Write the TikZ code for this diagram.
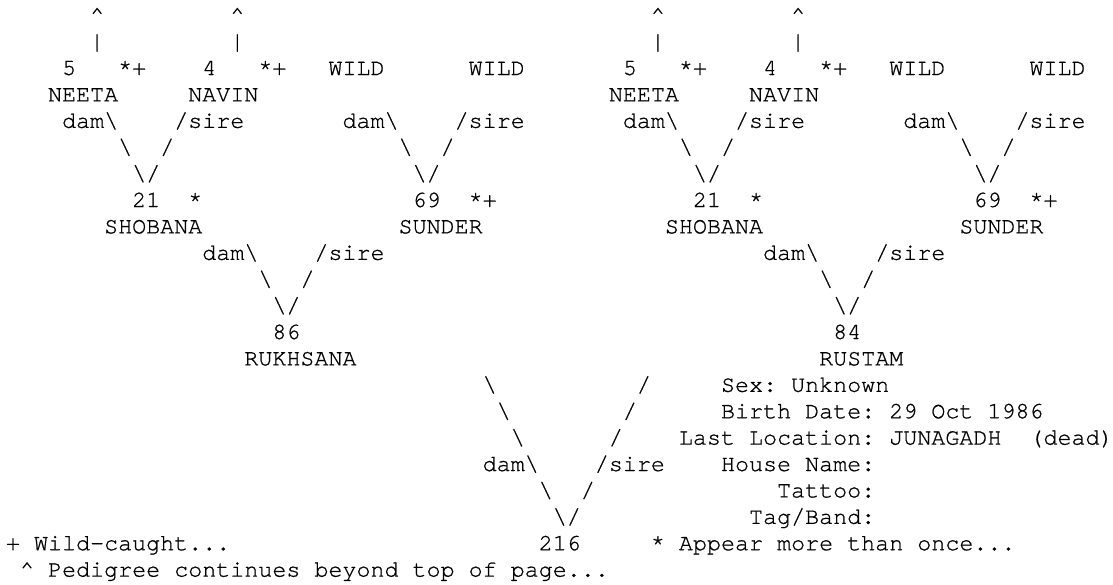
\documentclass[tikz,border=0pt]{standalone}
\usepackage{fontspec}
\newfontfamily\monofam{texgyrecursor-regular}[Extension=.otf,FakeBold=0.8]
\newcommand\csp{\hspace*{10.515pt}}
\newcommand\bs{\textbackslash}
\tikzset{txt/.style={inner sep=0pt, outer sep=0pt, anchor=base west,
  font=\monofam\fontsize{17.525pt}{20pt}\selectfont}}
\newcommand\txtat[4]{\node[txt] (#1) at ({6+#2*14.02},{22.2+(#3-1)*26.4}) {#4};}
\begin{document}
\begin{tikzpicture}[x=0.75pt,y=-0.75pt]
\fill[white] (0,0) rectangle (1113,585);
\useasboundingbox (0,0) rectangle (1113,585);
% row 1-2
\txtat{ca1}{6}{1}{\textasciicircum}
\txtat{ca2}{16}{1}{\textasciicircum}
\txtat{ca3}{46}{1}{\textasciicircum}
\txtat{ca4}{56}{1}{\textasciicircum}
\txtat{vb1}{6}{2}{\textbar}
\txtat{vb2}{16}{2}{\textbar}
\txtat{vb3}{46}{2}{\textbar}
\txtat{vb4}{56}{2}{\textbar}
% row 3
\txtat{n5l}{4}{3}{5}
\txtat{s5l}{8}{3}{*+}
\txtat{n4l}{14}{3}{4}
\txtat{s4l}{18}{3}{*+}
\txtat{w1l}{23}{3}{WILD}
\txtat{w2l}{33}{3}{WILD}
\txtat{n5r}{44}{3}{5}
\txtat{s5r}{48}{3}{*+}
\txtat{n4r}{54}{3}{4}
\txtat{s4r}{58}{3}{*+}
\txtat{w1r}{63}{3}{WILD}
\txtat{w2r}{73}{3}{WILD}
% row 4
\txtat{neetal}{3}{4}{NEETA}
\txtat{navinl}{13}{4}{NAVIN}
\txtat{neetar}{43}{4}{NEETA}
\txtat{navinr}{53}{4}{NAVIN}
% row 5
\txtat{da1l}{4}{5}{dam\bs}
\txtat{si1l}{12}{5}{/sire}
\txtat{da2l}{24}{5}{dam\bs}
\txtat{si2l}{32}{5}{/sire}
\txtat{da1r}{44}{5}{dam\bs}
\txtat{si1r}{52}{5}{/sire}
\txtat{da2r}{64}{5}{dam\bs}
\txtat{si2r}{72}{5}{/sire}
% row 6
\txtat{l6a}{8}{6}{\bs}
\txtat{r6a}{11}{6}{/}
\txtat{l6b}{28}{6}{\bs}
\txtat{r6b}{31}{6}{/}
\txtat{l6c}{48}{6}{\bs}
\txtat{r6c}{51}{6}{/}
\txtat{l6d}{68}{6}{\bs}
\txtat{r6d}{71}{6}{/}
% row 7
\txtat{v7a}{9}{7}{\bs/}
\txtat{v7b}{29}{7}{\bs/}
\txtat{v7c}{49}{7}{\bs/}
\txtat{v7d}{69}{7}{\bs/}
% row 8
\txtat{n21l}{9}{8}{21}
\txtat{s21l}{13}{8}{*}
\txtat{n69l}{29}{8}{69}
\txtat{s69l}{33}{8}{*+}
\txtat{n21r}{49}{8}{21}
\txtat{s21r}{53}{8}{*}
\txtat{n69r}{69}{8}{69}
\txtat{s69r}{73}{8}{*+}
% row 9
\txtat{shobl}{7}{9}{SHOBANA}
\txtat{sundl}{28}{9}{SUNDER}
\txtat{shobr}{47}{9}{SHOBANA}
\txtat{sundr}{68}{9}{SUNDER}
% row 10
\txtat{da3l}{14}{10}{dam\bs}
\txtat{si3l}{22}{10}{/sire}
\txtat{da3r}{54}{10}{dam\bs}
\txtat{si3r}{62}{10}{/sire}
% row 11
\txtat{l11a}{18}{11}{\bs}
\txtat{r11a}{21}{11}{/}
\txtat{l11b}{58}{11}{\bs}
\txtat{r11b}{61}{11}{/}
% row 12
\txtat{v12a}{19}{12}{\bs/}
\txtat{v12b}{59}{12}{\bs/}
% row 13-14
\txtat{n86}{19}{13}{86}
\txtat{n84}{59}{13}{84}
\txtat{rukh}{17}{14}{RUKHSANA}
\txtat{rust}{58}{14}{RUSTAM}
% rows 15-20 (bottom V)
\txtat{l15}{34}{15}{\bs}
\txtat{r15}{45}{15}{/}
\txtat{sex}{51}{15}{Sex:\csp Unknown}
\txtat{l16}{35}{16}{\bs}
\txtat{r16}{44}{16}{/}
\txtat{bdate}{51}{16}{Birth\csp Date:\csp 29\csp Oct\csp 1986}
\txtat{l17}{36}{17}{\bs}
\txtat{r17}{43}{17}{/}
\txtat{lloc}{48}{17}{Last\csp Location:\csp JUNAGADH}
\txtat{dead}{73}{17}{(dead)}
\txtat{da4}{34}{18}{dam\bs}
\txtat{si4}{42}{18}{/sire}
\txtat{hname}{51}{18}{House\csp Name:}
\txtat{l19}{38}{19}{\bs}
\txtat{r19}{41}{19}{/}
\txtat{tatt}{55}{19}{Tattoo:}
\txtat{v20}{39}{20}{\bs/}
\txtat{tagb}{53}{20}{Tag/Band:}
% row 21-22
\txtat{wildc}{0}{21}{+\csp Wild-caught...}
\txtat{n216}{38}{21}{216}
\txtat{once}{46}{21}{*\csp Appear\csp more\csp than\csp once...}
\txtat{pedig}{1}{22}{\textasciicircum\csp Pedigree\csp continues\csp beyond\csp top\csp of\csp page...}
\end{tikzpicture}
\end{document}
